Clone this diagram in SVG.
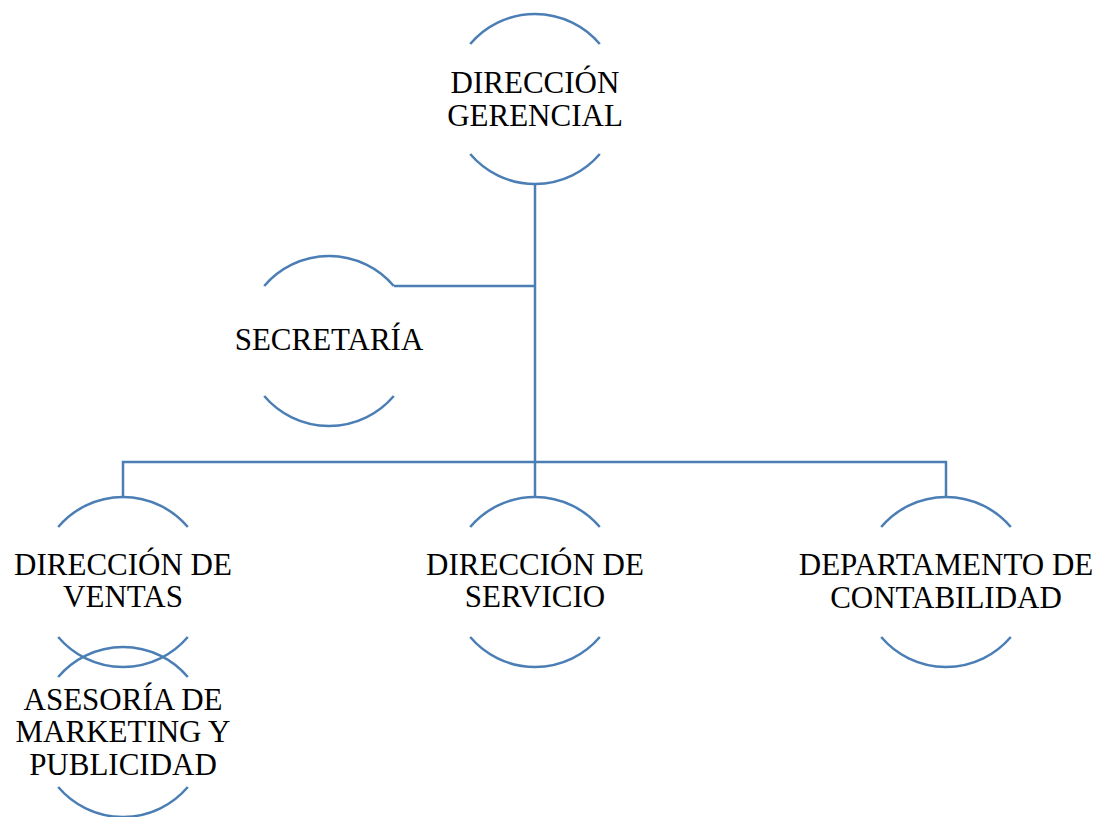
<svg xmlns="http://www.w3.org/2000/svg" width="1104" height="817" viewBox="0 0 1104 817">
<style>
.arc{fill:none;stroke:#4A7EB5;stroke-width:2.5}
.con{fill:none;stroke:#4A7EB5;stroke-width:2.5}
.t{font-size:31px;fill:#000;text-anchor:middle}
</style>
<defs>
<path id="ring" class="arc" d="M-64.8,-55 A85,85 0 0 1 64.8,-55 M-64.8,55 A85,85 0 0 0 64.8,55"/>
</defs>
<rect width="1104" height="817" fill="#fff"/>
<g id="connectors">
<path class="con" d="M535,184 V462"/>
<path class="con" d="M394,286 H535"/>
<path class="con" d="M123,497 V462 H946 V497"/>
<path class="con" d="M535,462 V497"/>
</g>
<g font-family="Liberation Serif, DejaVu Serif, Times New Roman, serif">
<g id="direccion-gerencial">
<use href="#ring" x="535" y="99"/>
<text class="t" x="535" y="93">DIRECCIÓN</text>
<text class="t" x="535" y="126">GERENCIAL</text>
</g>
<g id="secretaria">
<use href="#ring" x="329" y="341"/>
<text class="t" x="329" y="350">SECRETARÍA</text>
</g>
<g id="direccion-ventas">
<use href="#ring" x="123" y="582"/>
<text class="t" x="123" y="575">DIRECCIÓN DE</text>
<text class="t" x="123" y="607">VENTAS</text>
</g>
<g id="asesoria-marketing">
<use href="#ring" x="123" y="732"/>
<text class="t" x="123" y="710">ASESORÍA DE</text>
<text class="t" x="123" y="742">MARKETING Y</text>
<text class="t" x="123" y="775">PUBLICIDAD</text>
</g>
<g id="direccion-servicio">
<use href="#ring" x="535" y="582"/>
<text class="t" x="535" y="575">DIRECCIÓN DE</text>
<text class="t" x="535" y="607">SERVICIO</text>
</g>
<g id="departamento-contabilidad">
<use href="#ring" x="946" y="582"/>
<text class="t" x="946" y="575">DEPARTAMENTO DE</text>
<text class="t" x="946" y="608">CONTABILIDAD</text>
</g>
</g>
</svg>
